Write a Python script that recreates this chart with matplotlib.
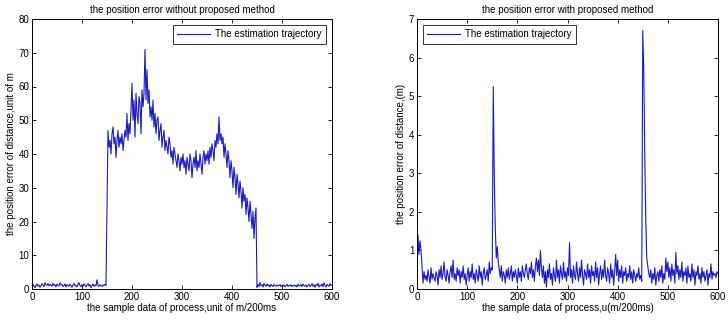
import numpy as np
import matplotlib
matplotlib.use("Agg")
import matplotlib.pyplot as plt

plt.rcParams['font.family'] = ['Liberation Sans', 'DejaVu Sans']

samples = np.arange(0, 601, 2)

err_without = [
    0.6,1.3,0.9,0.4,1.1,1.5,0.8,1.2,0.5,1.0,1.6,1.2,0.7,1.9,1.3,1.1,1.6,0.9,1.4,1.2,
    0.8,1.7,1.0,1.3,0.6,1.5,1.1,0.9,1.8,1.2,1.4,0.7,1.0,1.5,0.6,1.3,1.1,0.8,1.4,1.0,
    0.5,1.2,1.7,0.9,1.1,0.6,1.4,1.9,1.0,0.7,1.3,0.8,1.5,1.1,0.6,1.2,1.6,0.9,1.3,0.4,
    1.0,1.5,0.8,1.2,0.9,2.7,1.1,0.8,1.3,1.0,0.7,1.2,1.0,1.4,1.1,
    25,47,42,44,40,46,48,43,45,39,44,47,42,45,43,46,41,44,47,45,52,44,49,46,53,61,
    50,56,45,58,52,49,57,55,46,59,54,58,71,56,65,
    55,59,51,54,50,56,48,52,46,50,51,44,47,49,42,45,47,41,44,42,40,45,43,39,41,37,42,40,38,36,40,38,35,39,37,
    40,36,38,34,39,37,35,40,38,33,37,39,36,41,35,38,36,40,37,34,39,41,37,40,38,
    41,37,42,39,43,41,38,44,42,46,43,51,44,46,43,
    45,39,43,40,36,41,38,33,38,35,30,36,33,28,34,31,27,32,29,24,30,26,28,22,27,24,20,26,22,18,23,15,21,24,
    0.5,1.4,0.7,1.9,1.0,1.3,0.6,1.7,1.1,0.8,1.5,0.9,1.2,0.6,1.4,1.0,0.7,1.3,1.1,0.8,
    1.2,0.9,1.0,1.3,0.7,1.1,0.9,1.2,0.6,1.0,1.4,0.8,1.1,0.9,1.3,0.7,1.0,1.2,0.8,1.1,
    0.6,1.4,0.9,1.0,1.3,0.7,1.5,1.0,0.8,1.2,0.6,1.1,1.4,0.7,1.0,1.6,0.8,1.2,0.5,1.3,
    1.0,1.7,0.6,1.2,0.9,1.5,0.7,1.8,1.0,0.6,1.4,1.1,0.8,1.6,1.0,1.2,
]

err_with = [
    0.3,1.4,0.9,1.25,1.0,0.6,
    0.15,0.45,0.25,0.35,0.2,0.5,0.3,0.15,0.55,0.25,0.4,0.3,0.2,0.45,0.35,0.1,0.5,0.3,0.6,0.25,
    0.4,0.7,0.3,0.2,0.5,0.35,0.15,0.45,0.6,0.3,0.75,0.25,0.4,0.2,0.55,0.35,0.5,0.15,0.45,0.3,
    0.6,0.25,0.4,0.1,0.35,0.55,0.2,0.45,0.3,0.65,0.25,0.4,0.15,0.5,0.35,0.2,0.6,0.3,0.45,0.1,
    0.4,0.55,0.25,0.35,0.5,0.2,0.7,0.4,0.55,
    0.5,5.25,2.9,1.6,0.8,1.1,0.7,
    0.5,0.3,0.6,0.2,0.45,0.35,0.15,0.5,0.3,0.55,
    0.25,0.4,0.6,0.2,0.45,0.3,0.5,0.35,0.15,0.55,
    0.3,0.45,0.2,0.6,0.4,0.3,0.5,0.65,0.35,0.25,
    0.55,0.4,0.7,0.3,0.5,0.2,0.6,0.8,0.45,0.75,
    0.35,1.0,0.55,0.3,0.6,0.15,0.45,0.05,0.5,0.3,
    0.65,0.25,0.4,0.1,0.55,0.35,0.2,0.75,0.3,0.5,
    0.15,0.6,0.4,0.25,0.7,0.3,0.45,0.2,0.55,0.35,
    1.2,0.3,0.5,0.15,0.6,0.35,0.25,0.7,0.4,0.2,
    0.55,0.3,0.75,0.35,0.1,0.5,0.4,0.25,0.65,0.3,
    0.5,0.15,0.6,0.35,0.45,0.2,0.7,0.3,0.55,0.1,
    0.4,0.6,0.25,0.5,0.3,0.75,0.35,0.2,0.55,0.4,
    0.15,0.65,0.3,0.5,0.1,0.45,0.9,0.35,0.75,0.2,
    0.5,0.3,0.6,0.15,0.45,0.35,0.55,0.2,0.4,0.3,
    0.6,0.25,0.45,0.15,0.5,0.35,0.2,0.4,0.3,0.55,
    0.25,0.35,0.2,
    6.7,5.7,3.5,1.8,0.8,0.6,0.4,
    0.3,0.5,0.15,0.4,0.25,0.55,0.1,0.35,0.45,0.2,
    0.5,0.3,0.6,0.15,0.4,0.25,0.8,0.45,0.7,0.3,
    0.55,0.2,0.65,0.35,0.5,0.15,0.95,0.4,0.6,0.25,
    0.5,0.3,0.7,0.2,0.45,0.35,0.55,0.15,0.6,0.3,
    0.4,0.2,0.65,0.3,0.5,0.1,0.45,0.35,0.6,0.25,
    0.4,0.15,0.55,0.3,0.45,0.2,0.35,0.5,0.1,0.4,
    0.3,0.65,0.25,0.45,0.35,0.4,0.3,0.45,0.4,
]

titles = ["the position error without proposed method", "the position error with proposed method"]
xlabels = ["the sample data of process,unit of m/200ms", "the sample data of process,u(m/200ms)"]
ylabels = ["the position error of distance,unit of m", "the position error of distance,(m)"]
legend_label = "The estimation trajectory"
xticks = [0, 100, 200, 300, 400, 500, 600]
yticks_left = [0, 10, 20, 30, 40, 50, 60, 70, 80]
yticks_right = [0, 1, 2, 3, 4, 5, 6, 7]

fig = plt.figure(figsize=(7.28, 3.24), dpi=100)
axL = fig.add_axes([32/728, 35/324, 300/728, 270/324])
axR = fig.add_axes([417/728, 35/324, 301/728, 270/324])

FS = 7
for ax, y, title, xl, yl, yt, loc in [
    (axL, err_without, titles[0], xlabels[0], ylabels[0], yticks_left, 'upper right'),
    (axR, err_with, titles[1], xlabels[1], ylabels[1], yticks_right, 'upper left'),
]:
    ax.plot(samples, y, color='#1a1ac8', lw=0.8, label=legend_label)
    ax.set_xlim(0, 600)
    ax.set_ylim(yt[0], yt[-1])
    ax.set_xticks(xticks)
    ax.set_yticks(yt)
    ax.tick_params(direction='in', length=3, width=0.6, top=True, right=True,
                   labelsize=FS, pad=2)
    for s in ax.spines.values():
        s.set_linewidth(0.7)
    ax.set_title(title, fontsize=FS, pad=4)
    ax.set_xlabel(xl, fontsize=FS, labelpad=1)
    ax.set_ylabel(yl, fontsize=FS, labelpad=2)
    leg = ax.legend(loc=loc, fontsize=FS, frameon=True, fancybox=False,
                    edgecolor='black', handlelength=3.4, borderaxespad=0.6,
                    borderpad=0.45, handletextpad=0.5)
    leg.get_frame().set_linewidth(0.7)

fig.savefig("out.png", dpi=100)
